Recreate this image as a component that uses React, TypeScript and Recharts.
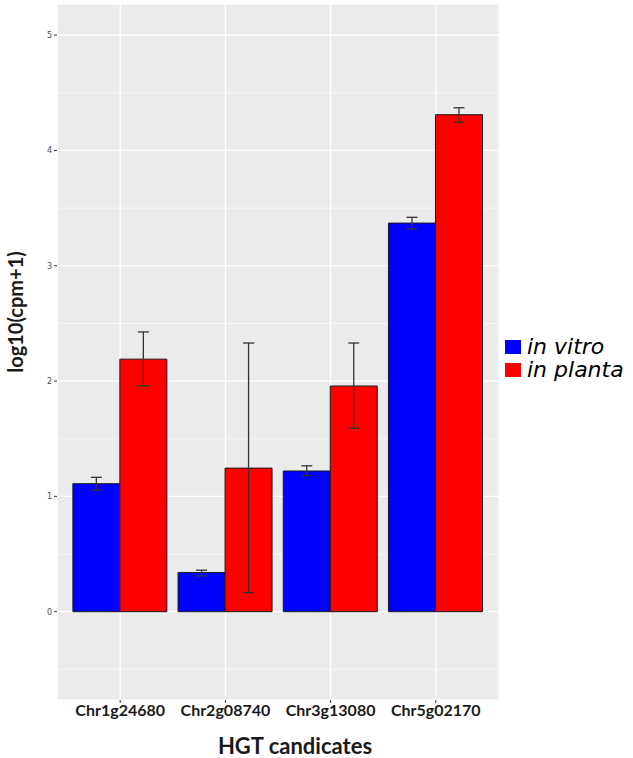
import React from 'react';
import { BarChart, Bar, XAxis, YAxis, CartesianGrid, ErrorBar, Label } from 'recharts';

const genes = ['Chr1g24680', 'Chr2g08740', 'Chr3g13080', 'Chr5g02170'];

// in vitro: mean and error bar bounds
const vitroMean = [1.11, 0.34, 1.22, 3.37];
const vitroLow = [1.055, 0.31, 1.18, 3.32];
const vitroHigh = [1.165, 0.36, 1.265, 3.42];

// in planta
const plantaMean = [2.19, 1.245, 1.957, 4.31];
const plantaLow = [1.96, 0.165, 1.59, 4.245];
const plantaHigh = [2.426, 2.33, 2.33, 4.37];

const majorTicks = [0, 1, 2, 3, 4, 5];
const minorTicks = [-0.5, 0.5, 1.5, 2.5, 3.5, 4.5];
const yDomain = [-0.766, 5.27];

const series = [
  { key: 'vitro', label: 'in vitro', color: '#0000FF' },
  { key: 'planta', label: 'in planta', color: '#FF0000' },
];

const data = genes.map((gene, i) => ({
  gene,
  vitro: vitroMean[i],
  vitroErr: [vitroMean[i] - vitroLow[i], vitroHigh[i] - vitroMean[i]],
  planta: plantaMean[i],
  plantaErr: [plantaMean[i] - plantaLow[i], plantaHigh[i] - plantaMean[i]],
}));

const LegendBox = () => (
  <div
    style={{
      position: 'absolute',
      left: 505,
      top: 335,
      fontFamily: 'DejaVu Sans',
      fontStyle: 'italic',
      fontSize: 22,
      lineHeight: '23px',
      color: '#000',
    }}
  >
    {series.map((s) => (
      <div key={s.key} style={{ display: 'flex', alignItems: 'center', whiteSpace: 'nowrap', height: 23 }}>
        <span style={{ display: 'inline-block', width: 16, height: 14, background: s.color, marginRight: 6 }} />
        {s.label}
      </div>
    ))}
  </div>
);

const App = () => {
  return (
    <div style={{ position: 'absolute', left: 0, top: 0, width: 633, height: 758 }}>
      <BarChart
        width={633}
        height={758}
        data={data}
        margin={{ top: 4, right: 134, left: 0, bottom: 0 }}
        barCategoryGap="5%"
        barGap={0}
      >
        <CartesianGrid yAxisId="minor" vertical={false} fill="#EBEBEB" stroke="#FFFFFF" strokeWidth={0.6} />
        <CartesianGrid stroke="#FFFFFF" strokeWidth={1.2} />
        <XAxis
          dataKey="gene"
          height={58}
          padding={{ left: 10.6, right: 10.6 }}
          axisLine={false}
          tickLine={{ stroke: '#333' }}
          tickSize={3}
          tickMargin={2}
          tick={{ fontFamily: 'Lato', fontWeight: 700, fontSize: 16, fill: '#1a1a1a' }}
        >
          <Label
            value="HGT candicates"
            position="insideBottom"
            offset={4}
            dx={17}
            style={{ fontFamily: 'Lato', fontWeight: 700, fontSize: 22, fill: '#1a1a1a' }}
          />
        </XAxis>
        <YAxis
          type="number"
          width={57}
          domain={yDomain}
          ticks={majorTicks}
          allowDataOverflow
          axisLine={false}
          tickLine={{ stroke: '#333' }}
          tickSize={3}
          tickMargin={2}
          tick={{ fontFamily: 'DejaVu Sans', fontSize: 8, fill: '#4d4d4d' }}
        >
          <Label
            content={() => (
              <text
                x={23}
                y={312}
                transform="rotate(-90 23 312)"
                textAnchor="middle"
                style={{ fontFamily: 'Lato', fontWeight: 700, fontSize: 20, fill: '#1a1a1a' }}
              >
                log10(cpm+1)
              </text>
            )}
          />
        </YAxis>
        <YAxis yAxisId="minor" type="number" hide domain={yDomain} ticks={minorTicks} allowDataOverflow />
        {series.map((s) => (
          <Bar
            key={s.key}
            dataKey={s.key}
            name={s.label}
            fill={s.color}
            stroke="#1a1a1a"
            strokeWidth={1}
            isAnimationActive={false}
          >
            <ErrorBar
              dataKey={`${s.key}Err`}
              direction="y"
              width={5.5}
              stroke="#333"
              strokeWidth={1.3}
              isAnimationActive={false}
            />
          </Bar>
        ))}
      </BarChart>
      <LegendBox />
    </div>
  );
};

export default App;
